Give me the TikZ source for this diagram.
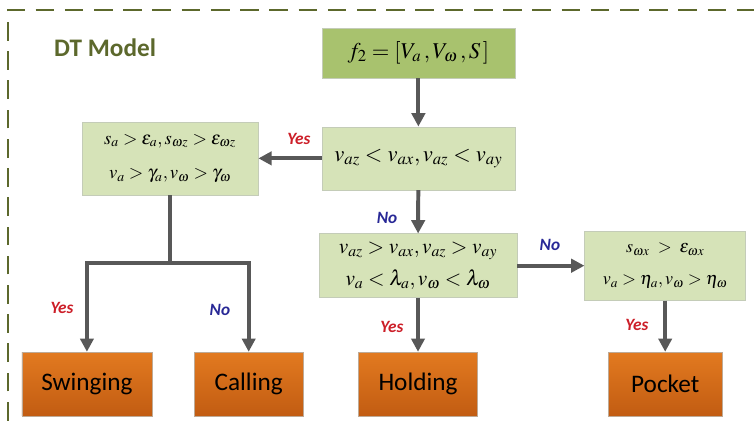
\documentclass[tikz,border=0pt]{standalone}
\usepackage{mathptmx}
\usepackage{fontspec}
\setmainfont{Carlito}
\usepackage{amsmath}
\usetikzlibrary{arrows.meta}

\definecolor{dtolive}{RGB}{92,104,44}
\definecolor{featgreen}{RGB}{168,194,110}
\definecolor{condgreen}{RGB}{214,227,184}
\definecolor{boxline}{RGB}{196,204,184}
\definecolor{leaftop}{RGB}{226,122,32}
\definecolor{leafbot}{RGB}{194,92,18}
\definecolor{leafline}{RGB}{190,170,150}
\definecolor{arrowgray}{RGB}{88,88,88}
\definecolor{yesred}{RGB}{204,30,40}
\definecolor{noblue}{RGB}{40,40,150}

\begin{document}
\begin{tikzpicture}[every node/.style={font=\normalsize},
    cond/.style={draw=boxline, fill=condgreen, inner sep=0pt, align=center},
    leaf/.style={draw=leafline, top color=leaftop, bottom color=leafbot, inner sep=0pt,
      minimum height=1.69cm, font=\fontsize{19}{22}\selectfont},
    flow/.style={draw=arrowgray, line width=3pt, -{Triangle[length=10pt,width=10pt]}},
    yes/.style={text=yesred, font=\fontsize{13}{15}\selectfont\bfseries\itshape},
    no/.style={text=noblue, font=\fontsize{13}{15}\selectfont\bfseries\itshape}]
  \useasboundingbox (0,0) rectangle (19.95,11.40);
  \draw[dtolive, line width=1.5pt, dash pattern=on 14pt off 8pt] (0.21,-0.5) -- (0.21,11.14) -- (20.5,11.14);
  \node[text=dtolive, font=\fontsize{19}{22}\selectfont\bfseries] (title) at (2.78,10.13) {DT Model};

  \node[cond, fill=featgreen, minimum width=5.11cm, minimum height=1.32cm, font=\fontsize{17}{20}\selectfont] (feat) at (11.07,10.00)
    {$f_2=[V_a\,,V_\omega\,,S\,]$};
  \node[cond, minimum width=5.11cm, minimum height=1.67cm, font=\fontsize{17}{20}\selectfont] (cz) at (11.07,7.21)
    {$v_{az}<v_{ax},v_{az}<v_{ay}$};
  \node[cond, minimum width=4.66cm, minimum height=1.93cm, font=\fontsize{14}{17}\selectfont] (swcond) at (4.50,7.21)
    {$s_a>\varepsilon_a,s_{\omega z}>\varepsilon_{\omega z}$\\[9pt]$v_a>\gamma_a,v_\omega>\gamma_\omega$};
  \node[cond, minimum width=5.24cm, minimum height=1.69cm, font=\fontsize{16}{19}\selectfont] (cxy) at (11.06,4.37)
    {$v_{az}>v_{ax},v_{az}>v_{ay}$\\[5pt]$v_a<\lambda_a,v_\omega<\lambda_\omega$};
  \node[cond, minimum width=4.26cm, minimum height=1.83cm, font=\fontsize{13.5}{16}\selectfont] (cpk) at (17.60,4.37)
    {$s_{\omega x}\;>\;\varepsilon_{\omega x}$\\[8pt]$v_a>\eta_a,v_\omega>\eta_\omega$};

  \node[leaf, minimum width=3.44cm] (swing) at (2.30,1.24) {Swinging};
  \node[leaf, minimum width=2.88cm] (call) at (6.58,1.24) {Calling};
  \node[leaf, minimum width=3.15cm] (hold) at (11.06,1.24) {Holding};
  \node[leaf, minimum width=3.02cm] (pock) at (17.60,1.24) {Pocket};

  \coordinate (split) at (4.50,4.45);
  \draw[flow] (feat) -- (cz);
  \draw[flow] (cz) -- (swcond);
  \draw[flow] (cz) -- (cxy);
  \draw[flow] (cxy) -- (cpk);
  \draw[flow] (cxy) -- (hold);
  \draw[flow] (cpk) -- (pock);
  \draw[flow] (swcond) -- (split) -| (swing);
  \draw[flow] (split) -| (call);

  \node[yes] (yesleft) at (7.91,7.73) {Yes};
  \node[no] (nodown) at (10.24,5.64) {No};
  \node[no] (noright) at (14.55,4.92) {No};
  \node[yes] (yeshold) at (10.37,2.75) {Yes};
  \node[yes] (yespock) at (16.85,2.80) {Yes};
  \node[yes] (yesswing) at (1.64,3.25) {Yes};
  \node[no] (nocall) at (5.82,3.20) {No};
\end{tikzpicture}
\end{document}
